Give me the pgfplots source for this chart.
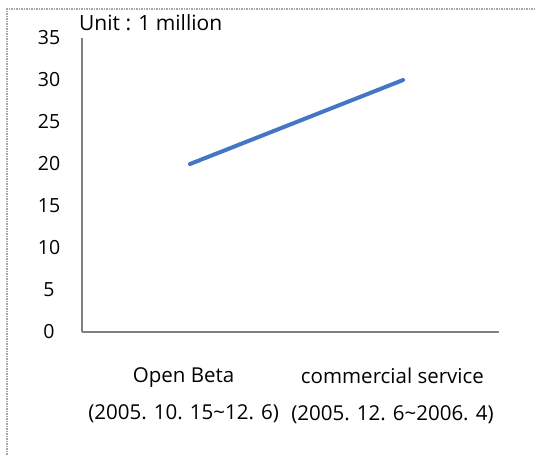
\documentclass[border=0pt]{standalone}
\usepackage{fontspec}
\setmainfont{Open Sans}
\usepackage{pgfplots}
\pgfplotsset{compat=1.18}
\definecolor{lineblue}{RGB}{68,118,196}
\begin{document}
\begin{tikzpicture}
\begin{axis}[
  anchor=south west,
  scale only axis, width=417pt, height=294pt,
  xmin=-0.507, xmax=1.45, ymin=0, ymax=35,
  ytick={0,5,...,35}, xtick={-0.03,0.95},
  xticklabels={{Open Beta\\(2005. 10. 15\textasciitilde 12. 6)},{commercial service\\(2005. 12. 6\textasciitilde 2006. 4)}},
  axis x line*=bottom, axis y line*=left,
  axis line style={draw=gray, line width=1.2pt, -},
  major tick length=0pt, tick style={draw=none},
  yticklabel style={font=\fontsize{19.5}{37}\selectfont, anchor=center, xshift=-33pt},
  xticklabel style={font=\fontsize{20.5}{37}\selectfont, align=center, anchor=north, yshift=-32pt},
  /pgf/number format/assume math mode=true,
  clip=false,
]
\addplot[color=lineblue, line width=4pt, line cap=round] coordinates {(0,20) (1,30)};
\end{axis}
\useasboundingbox (-82pt,-123pt) rectangle (454pt,332pt);
\draw[gray!70, densely dotted, line width=1.5pt] (-75pt,-123pt) -- (-75pt,323pt) -- (454pt,323pt);
\node[anchor=base west, font=\fontsize{21}{25}\selectfont, inner sep=0pt] at (-3pt,301pt) {Unit : 1 million};
\end{tikzpicture}
\end{document}
